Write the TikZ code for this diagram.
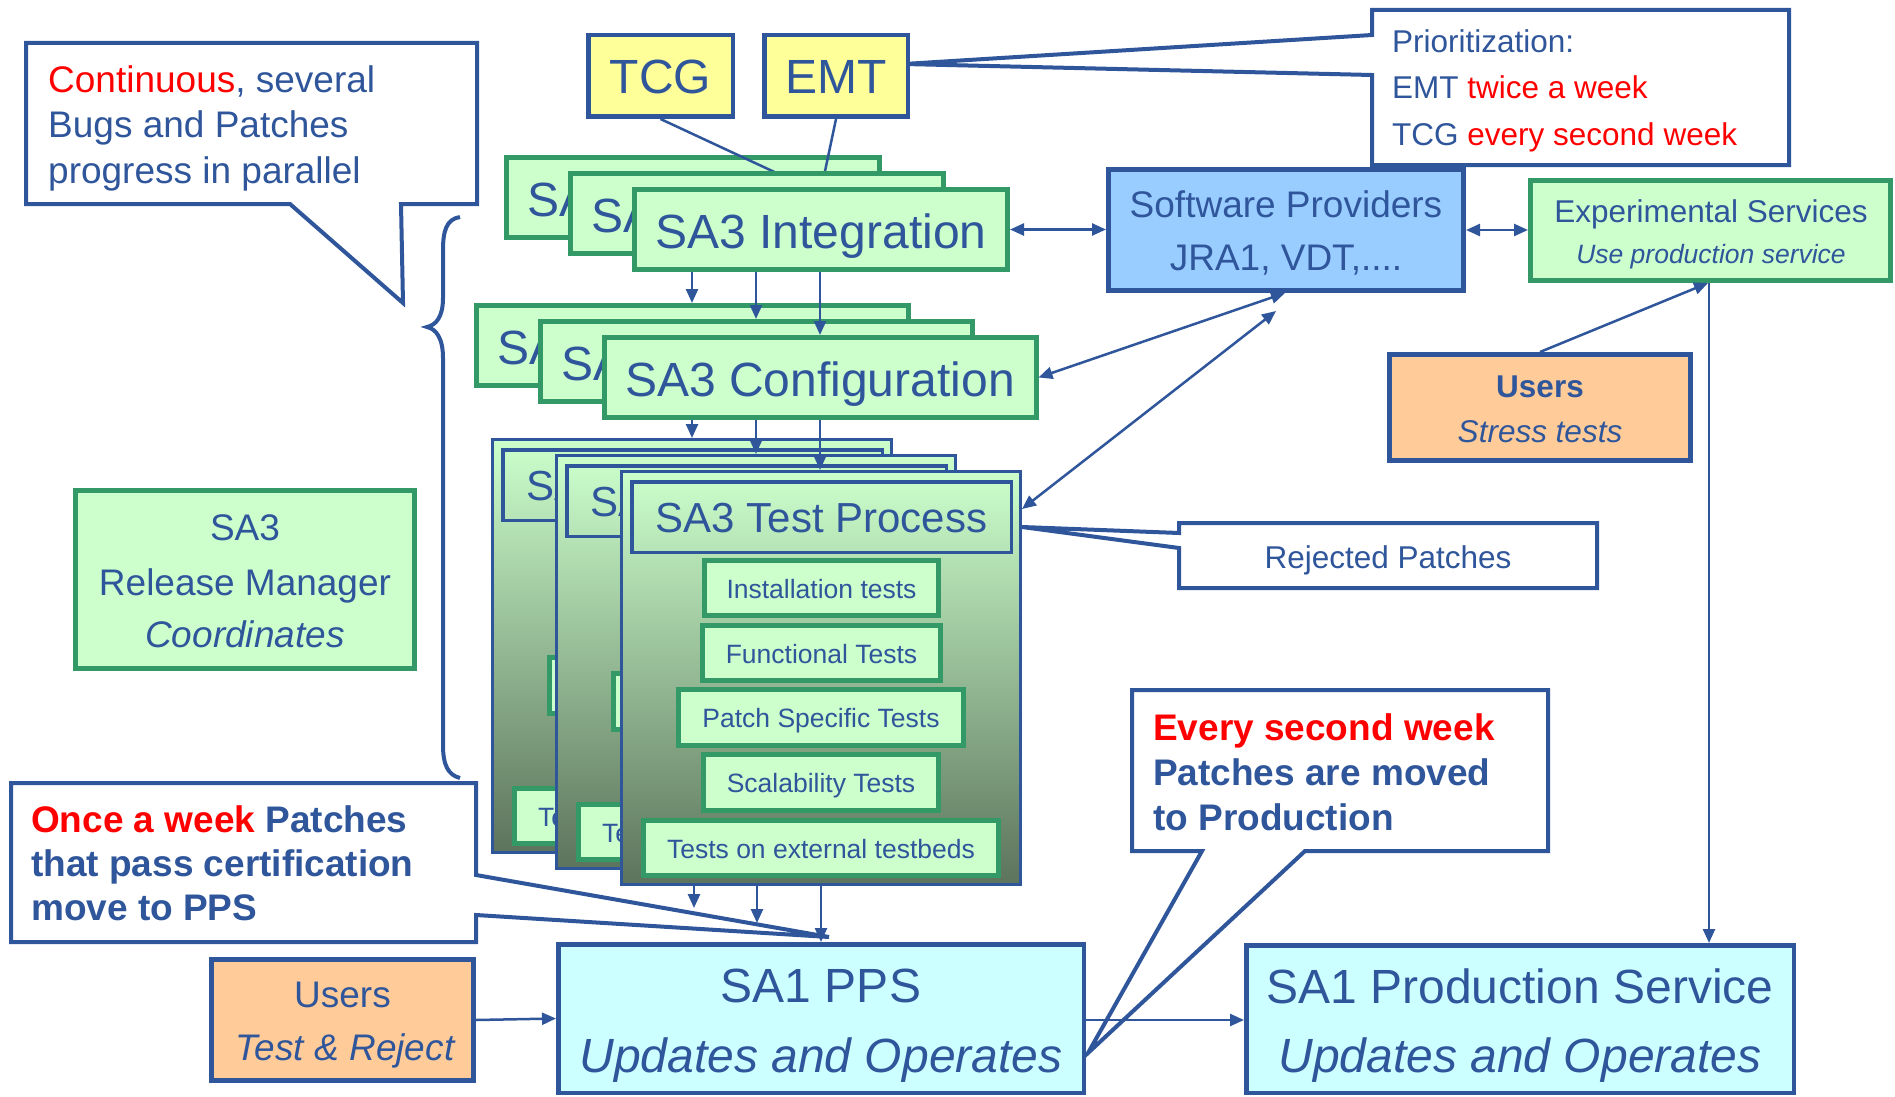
\documentclass[tikz,border=0pt]{standalone}
\usepackage{fontspec}
\setmainfont{Liberation Sans}
\usetikzlibrary{arrows.meta}

\definecolor{ink}{RGB}{47,85,155}
\definecolor{grn}{RGB}{51,153,102}
\definecolor{paleg}{RGB}{204,255,204}
\definecolor{yel}{RGB}{255,255,153}
\definecolor{skyb}{RGB}{153,204,255}
\definecolor{cyanp}{RGB}{204,255,255}
\definecolor{apricot}{RGB}{255,204,153}
\definecolor{tpdark}{RGB}{92,115,92}
\definecolor{hot}{RGB}{255,0,0}

\newcommand\myfs[1]{\fontsize{#1pt}{#1pt}\selectfont}

% one card of the SA3 integration stack
\newcommand\intcard[3]{%
\begin{scope}[shift={(#2,#3)}]
  \node[grnbox, minimum width=373pt, minimum height=80pt] (int#1) at (821,229.5) {};
  \node[lbl, font=\myfs{48}] (intt#1) at (821,248) {SA3 Integration};
\end{scope}}

% one card of the SA3 configuration stack
\newcommand\cfgcard[3]{%
\begin{scope}[shift={(#2,#3)}]
  \node[grnbox, minimum width=432pt, minimum height=80pt] (cfg#1) at (820,377.5) {};
  \node[lbl, font=\myfs{48}] (cfgt#1) at (820,396) {SA3 Configuration};
\end{scope}}

% one card of the SA3 test process stack
\newcommand\testcard[3]{%
\begin{scope}[shift={(#2,#3)}]
  \node[tpouter, minimum width=399pt, minimum height=413pt] (tp#1) at (821,678) {};
  \node[tphead, minimum width=379.5pt, minimum height=70.5pt] (tph#1) at (821.5,517) {};
  \node[lbl, font=\myfs{42}] (tpt#1) at (821.5,532) {SA3 Test Process};
  \node[testbox, minimum width=234pt, minimum height=55pt] (ins#1) at (821.5,588) {};
  \node[lbl, font=\myfs{26.5}] (inst#1) at (821.5,598) {Installation tests};
  \node[testbox, minimum width=238pt, minimum height=55pt] (fun#1) at (821.5,653) {};
  \node[lbl, font=\myfs{26.5}] (funt#1) at (821.5,663) {Functional Tests};
  \node[testbox, minimum width=285pt, minimum height=56pt] (pst#1) at (821,717.5) {};
  \node[lbl, font=\myfs{26.5}] (pstt#1) at (821,727.5) {Patch Specific Tests};
  \node[testbox, minimum width=235pt, minimum height=56pt] (sca#1) at (821,782.5) {};
  \node[lbl, font=\myfs{26.5}] (scat#1) at (821,792.5) {Scalability Tests};
  \node[testbox, minimum width=355pt, minimum height=55pt] (ext#1) at (821,848) {};
  \node[lbl, font=\myfs{26.5}] (extt#1) at (821,858) {Tests on external testbeds};
\end{scope}}

\begin{document}
\begin{tikzpicture}[x=1pt, y=-1pt, line join=miter,
  lbl/.style={inner sep=0pt, anchor=base, text=ink},
  lbll/.style={inner sep=0pt, anchor=base west, text=ink},
  yelbox/.style={draw=ink, fill=yel, line width=4.5pt},
  grnbox/.style={draw=grn, fill=paleg, line width=5pt},
  tpouter/.style={draw=ink, line width=3pt, top color=paleg, bottom color=tpdark},
  tphead/.style={draw=ink, line width=3.5pt},
  testbox/.style={draw=grn, fill=paleg, line width=5pt},
  spbox/.style={draw=ink, fill=skyb, line width=5pt},
  orbox/.style={draw=ink, fill=apricot, line width=5pt},
  cybox/.style={draw=ink, fill=cyanp, line width=4.5pt},
  callout/.style={draw=ink, fill=white, line width=4pt},
  conn/.style={draw=ink, line width=2.5pt},
  arr/.style={conn, -{Triangle[length=14pt,width=12pt]}},
  dbl/.style={conn, {Triangle[length=14pt,width=12pt]}-{Triangle[length=14pt,width=12pt]}},
]
\fill[white] (0,0) rectangle (1895,1097);
\useasboundingbox (0,0) rectangle (1895,1097);

% ---- callouts ----
\draw[callout] (26,43) -- (477,43) -- (477,204) -- (401,204) -- (403,303)
  -- (290,204) -- (26,204) -- cycle;
\node[lbll, font=\myfs{37}] (cont1) at (48,93) {\textcolor{hot}{Continuous}, several};
\node[lbll, font=\myfs{37}] (cont2) at (48,138) {Bugs and Patches};
\node[lbll, font=\myfs{37}] (cont3) at (48,183) {progress in parallel};

\draw[callout] (1372,10) -- (1789,10) -- (1789,165) -- (1372,165) -- (1372,75)
  -- (904,64) -- (1372,35) -- cycle;
\node[lbll, font=\myfs{31.5}] (prio1) at (1392,53) {Prioritization:};
\node[lbll, font=\myfs{31.5}] (prio2) at (1392,99) {EMT \textcolor{hot}{twice a week}};
\node[lbll, font=\myfs{31.5}] (prio3) at (1392,146) {TCG \textcolor{hot}{every second week}};

\draw[callout] (1179,523) -- (1597,523) -- (1597,588) -- (1179,588) -- (1179,548)
  -- (1022,527) -- (1179,533) -- cycle;
\node[lbl, font=\myfs{31.5}] (rej) at (1388,568) {Rejected Patches};

\draw[callout] (11,783) -- (476,783) -- (476,875) -- (829,937) -- (476,915)
  -- (476,942) -- (11,942) -- cycle;
\node[lbll, font=\bfseries\myfs{37}] (once1) at (31,832) {\textcolor{hot}{Once a week} Patches};
\node[lbll, font=\bfseries\myfs{37}] (once2) at (31,876) {that pass certification};
\node[lbll, font=\bfseries\myfs{37}] (once3) at (31,920) {move to PPS};

\draw[callout] (1132,690) -- (1548,690) -- (1548,851) -- (1305,851) -- (1088,1053)
  -- (1202,851) -- (1132,851) -- cycle;
\node[lbll, font=\bfseries\myfs{37}] (every1) at (1153,740) {\textcolor{hot}{Every second week}};
\node[lbll, font=\bfseries\myfs{37}] (every2) at (1153,785) {Patches are moved};
\node[lbll, font=\bfseries\myfs{37}] (every3) at (1153,830) {to Production};

% ---- brace grouping the parallel stacks ----
\draw[ink, line width=4pt] (460,217) .. controls (446,219) and (443,232) .. (443,250)
  -- (443,298) .. controls (443,317) and (436,325) .. (427,327)
  .. controls (436,329) and (443,338) .. (443,358)
  -- (443,745) .. controls (443,765) and (448,775) .. (460,778);

% ---- priority boards ----
\node[yelbox, minimum width=144.5pt, minimum height=81.5pt] (tcg) at (660.5,76) {};
\node[lbl, font=\myfs{48}] (tcgt) at (660.5,94) {TCG};
\node[yelbox, minimum width=143.5pt, minimum height=81.5pt] (emt) at (836,76) {};
\node[lbl, font=\myfs{48}] (emtt) at (836,94) {EMT};

% ---- integration stack ----
\intcard{1}{-128}{-32}
\coordinate (tcgend) at (783,176);
\coordinate (emtend) at (824,176);
\draw[conn] (tcg.south) -- (tcgend);
\draw[conn] (emt.south) -- (emtend);
\intcard{2}{-64}{-16}
\intcard{3}{0}{0}

% ---- configuration stack ----
\cfgcard{1}{-128}{-32}
\cfgcard{2}{-64}{-16}
\cfgcard{3}{0}{0}

% ---- test process stack ----
\testcard{1}{-129}{-32}
\testcard{2}{-65}{-16}
\testcard{3}{0}{0}

% ---- other actors ----
\node[grnbox, minimum width=339pt, minimum height=178pt] (rm) at (245,579.5) {};
\node[lbl, font=\myfs{37}] (rm1) at (245,540) {SA3};
\node[lbl, font=\myfs{37}] (rm2) at (245,595) {Release Manager};
\node[lbl, font=\itshape\myfs{37}] (rm3) at (245,647) {Coordinates};

\node[spbox, minimum width=355pt, minimum height=121pt] (sp) at (1286,230) {};
\node[lbl, font=\myfs{37}] (sp1) at (1286,217) {Software Providers};
\node[lbl, font=\myfs{37}] (sp2) at (1286,270) {JRA1, VDT,....};

\node[grnbox, minimum width=360pt, minimum height=100pt] (es) at (1710.5,230.5) {};
\node[lbl, font=\myfs{31.5}] (es1) at (1711,222) {Experimental Services};
\node[lbl, font=\itshape\myfs{26.5}] (es2) at (1711,263) {Use production service};

\node[orbox, minimum width=301pt, minimum height=106pt] (us) at (1540,407.5) {};
\node[lbl, font=\bfseries\myfs{31.5}] (us1) at (1540,397) {Users};
\node[lbl, font=\itshape\myfs{31.5}] (us2) at (1540,442) {Stress tests};

\node[orbox, minimum width=262pt, minimum height=121pt] (utr) at (342.5,1020) {};
\node[lbl, font=\myfs{37}] (utr1) at (342.5,1007) {Users};
\node[lbl, font=\itshape\myfs{37}] (utr2) at (345,1060) {Test \& Reject};

\node[cybox, minimum width=525.5pt, minimum height=148.5pt] (pps) at (821,1018.5) {};
\node[lbl, font=\myfs{48}] (pps1) at (821,1002) {SA1 PPS};
\node[lbl, font=\itshape\myfs{48}] (pps2) at (821,1072) {Updates and Operates};

\node[cybox, minimum width=547.5pt, minimum height=147.5pt] (prod) at (1520,1019) {};
\node[lbl, font=\myfs{48}] (prod1) at (1520,1003) {SA1 Production Service};
\node[lbl, font=\itshape\myfs{48}] (prod2) at (1520,1072) {Updates and Operates};

% ---- flow between the stacks ----
\foreach \i/\xx in {1/692,2/756,3/820}{
  \draw[arr] (int3.south -| \xx,0) -- (cfg\i.north -| \xx,0);
  \draw[arr] (cfg3.south -| \xx,0) -- (tp\i.north -| \xx,0);
}
\coordinate (ppsa) at (694,908);
\coordinate (ppsb) at (757,923);
\draw[arr] (tp3.south -| 694,0) -- (ppsa);
\draw[arr] (tp3.south -| 757,0) -- (ppsb);
\draw[arr] (tp3.south -| 821,0) -- (pps.north -| 821,0);

% ---- exchanges with providers and services ----
\draw[dbl] (int3.east) -- (sp.west |- int3.east);
\draw[dbl] (sp.east) -- (es.west |- sp.east);
\draw[dbl] (cfg3.east) -- (sp.south -| 1285,0);
\coordinate (spgap) at (1276,311);
\draw[dbl] (tp3.east |- 0,509) -- (spgap);
\draw[arr] (us.north) -- (es.south -| 1708,0);
\draw[arr] (es.south -| 1709,0) -- (prod.north -| 1709,0);
\draw[arr] (utr.east) -- (pps.west);
\draw[arr] (pps.east |- 0,1020) -- (prod.west |- 0,1020);
\end{tikzpicture}
\end{document}
